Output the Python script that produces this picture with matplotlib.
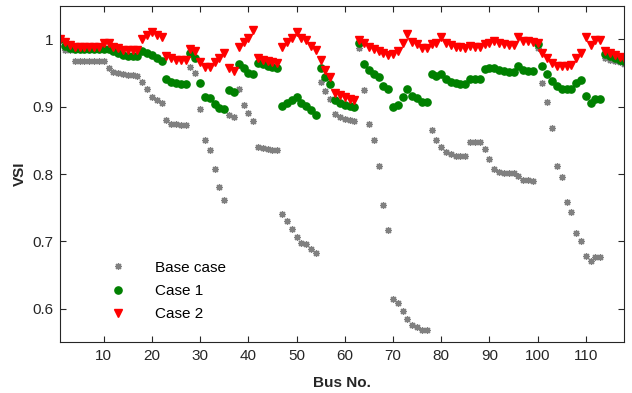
import numpy as np
import matplotlib
matplotlib.use("Agg")
import matplotlib.pyplot as plt

plt.rcParams['font.family'] = ['Liberation Sans', 'DejaVu Sans']

# Bus numbers of the 118-bus system
bus = np.arange(1, 119)

# Voltage stability index per bus
vsi_base = [
    1.000, 0.984, 0.984, 0.968, 0.968, 0.968, 0.968, 0.968, 0.968, 0.968,
    0.957, 0.952, 0.950, 0.948, 0.947, 0.947, 0.946, 0.937, 0.926, 0.915,
    0.910, 0.905, 0.880, 0.875, 0.874, 0.873, 0.873, 0.959, 0.950, 0.897,
    0.851, 0.836, 0.807, 0.780, 0.762, 0.888, 0.885, 0.926, 0.903, 0.891,
    0.879, 0.840, 0.838, 0.837, 0.836, 0.835, 0.741, 0.730, 0.719, 0.707,
    0.698, 0.696, 0.689, 0.683, 0.937, 0.923, 0.911, 0.889, 0.885, 0.882,
    0.880, 0.878, 0.987, 0.925, 0.875, 0.851, 0.812, 0.754, 0.717, 0.615,
    0.609, 0.596, 0.584, 0.575, 0.573, 0.569, 0.569, 0.866, 0.851, 0.840,
    0.833, 0.829, 0.827, 0.826, 0.826, 0.847, 0.847, 0.847, 0.837, 0.822,
    0.807, 0.803, 0.802, 0.801, 0.801, 0.797, 0.791, 0.791, 0.790, 0.987,
    0.935, 0.907, 0.869, 0.812, 0.795, 0.759, 0.743, 0.712, 0.700, 0.678,
    0.671, 0.677, 0.677, 0.973, 0.970, 0.968, 0.966, 0.964,
]

vsi_case1 = [
    1.000, 0.990, 0.987, 0.985, 0.985, 0.985, 0.985, 0.985, 0.985, 0.985,
    0.986, 0.982, 0.979, 0.977, 0.975, 0.975, 0.975, 0.982, 0.980, 0.977,
    0.972, 0.968, 0.941, 0.937, 0.935, 0.934, 0.934, 0.979, 0.973, 0.935,
    0.915, 0.913, 0.904, 0.898, 0.896, 0.925, 0.922, 0.964, 0.957, 0.950,
    0.949, 0.965, 0.963, 0.961, 0.959, 0.958, 0.901, 0.905, 0.910, 0.914,
    0.905, 0.901, 0.895, 0.888, 0.958, 0.944, 0.933, 0.910, 0.906, 0.903,
    0.901, 0.900, 0.994, 0.963, 0.955, 0.949, 0.944, 0.931, 0.926, 0.899,
    0.903, 0.915, 0.927, 0.916, 0.913, 0.907, 0.907, 0.948, 0.945, 0.949,
    0.941, 0.937, 0.935, 0.934, 0.934, 0.941, 0.941, 0.941, 0.956, 0.957,
    0.957, 0.954, 0.953, 0.952, 0.952, 0.960, 0.954, 0.953, 0.953, 0.993,
    0.961, 0.949, 0.938, 0.930, 0.927, 0.927, 0.927, 0.935, 0.940, 0.916,
    0.906, 0.912, 0.912, 0.978, 0.975, 0.972, 0.970, 0.968,
]

vsi_case2 = [
    1.001, 0.996, 0.992, 0.988, 0.988, 0.988, 0.988, 0.988, 0.988, 0.994,
    0.994, 0.989, 0.987, 0.984, 0.984, 0.984, 0.984, 1.001, 1.006, 1.011,
    1.006, 1.003, 0.976, 0.972, 0.969, 0.969, 0.969, 0.986, 0.983, 0.967,
    0.959, 0.959, 0.966, 0.972, 0.979, 0.957, 0.953, 0.989, 0.996, 1.002,
    1.014, 0.973, 0.969, 0.968, 0.967, 0.965, 0.989, 0.996, 1.002, 1.011,
    1.002, 0.999, 0.990, 0.984, 0.969, 0.955, 0.944, 0.920, 0.917, 0.915,
    0.912, 0.910, 0.999, 0.994, 0.989, 0.986, 0.982, 0.979, 0.977, 0.978,
    0.982, 0.994, 1.008, 0.996, 0.993, 0.987, 0.987, 0.993, 0.995, 1.003,
    0.995, 0.992, 0.989, 0.988, 0.987, 0.990, 0.989, 0.989, 0.993, 0.995,
    0.998, 0.994, 0.993, 0.992, 0.992, 1.004, 0.998, 0.997, 0.996, 0.995,
    0.979, 0.973, 0.965, 0.961, 0.961, 0.961, 0.962, 0.973, 0.980, 1.003,
    0.992, 0.999, 0.999, 0.982, 0.979, 0.977, 0.974, 0.973,
]

series_names = ['Base case', 'Case 1', 'Case 2']
x_ticks = [10, 20, 30, 40, 50, 60, 70, 80, 90, 100, 110]
y_ticks = [0.6, 0.7, 0.8, 0.9, 1.0]
y_tick_labels = ['0.6', '0.7', '0.8', '0.9', '1']

fig = plt.figure(figsize=(6.32, 3.93), dpi=100)
ax = fig.add_axes([0.0954, 0.129, 0.8926, 0.8565])

axis_col = '#262626'

ax.plot(bus, vsi_base, linestyle='none', marker=(8, 2, 0), markersize=5,
        markeredgewidth=0.9, color='#808080', label=series_names[0])
ax.plot(bus, vsi_case1, linestyle='none', marker='o', markersize=5.2,
        color='#008000', markeredgecolor='#008000', label=series_names[1])
ax.plot(bus, vsi_case2, linestyle='none', marker='v', markersize=6.0,
        color='#ff0000', markeredgecolor='#ff0000', label=series_names[2])

ax.set_xlim(1, 118)
ax.set_ylim(0.55, 1.05)
ax.set_xticks(x_ticks)
ax.set_xticklabels([str(t) for t in x_ticks])
ax.set_yticks(y_ticks)
ax.set_yticklabels(y_tick_labels)

ax.tick_params(direction='in', length=4, width=0.8, top=True, right=True,
               labelsize=11, colors=axis_col, pad=5)
for sp in ax.spines.values():
    sp.set_color(axis_col)
    sp.set_linewidth(0.8)

ax.set_xlabel('Bus No.', fontsize=11, fontweight='bold', color=axis_col, labelpad=9)
ax.set_ylabel('VSI', fontsize=11, fontweight='bold', color=axis_col, labelpad=4)

leg = ax.legend(loc='lower left', bbox_to_anchor=(0.043, 0.036), frameon=False,
                fontsize=11, handlelength=3.2, handletextpad=0.8,
                labelspacing=0.6, borderaxespad=0.2)
for t in leg.get_texts():
    t.set_color('black')

fig.savefig('out.png', dpi=100)
